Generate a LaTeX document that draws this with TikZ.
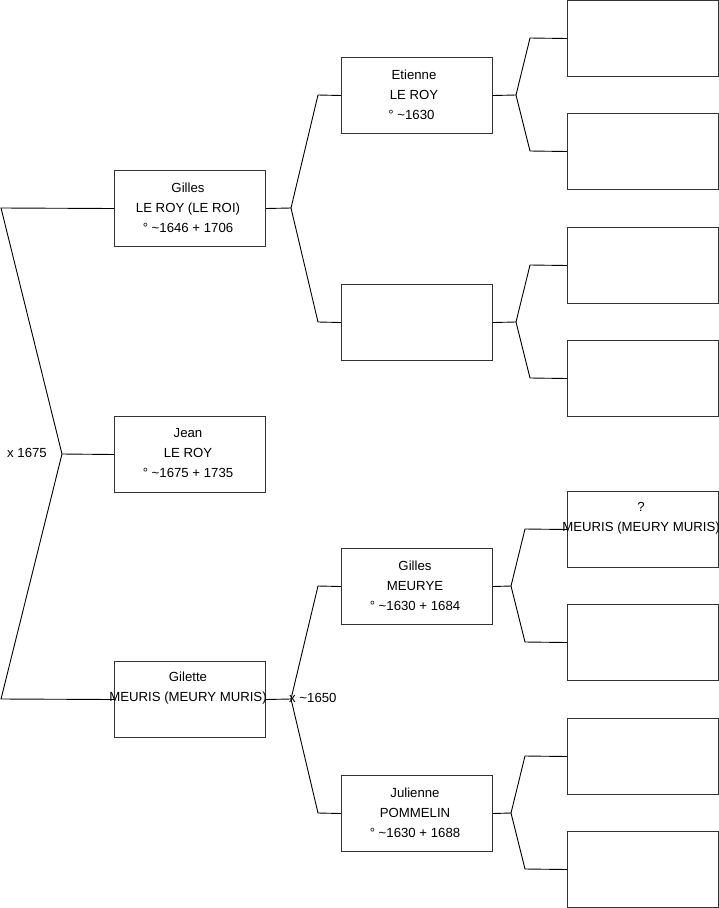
\documentclass[tikz,border=0pt]{standalone}
\usepackage{fontspec}
\setmainfont{Liberation Sans}
\newcommand{\tld}{\textasciitilde}
\begin{document}
\begin{tikzpicture}[x=1pt,y=-1pt,
  box/.style={draw=black!80, line width=1pt, minimum width=151pt, minimum height=76pt, inner sep=0pt, anchor=north west},
  lbl/.style={font=\fontsize{13.2}{20}\selectfont, align=center, inner sep=0pt},
  conn/.style={draw=black, line width=0.9pt}]
\useasboundingbox (0,0) rectangle (719,908);
% generation 1-2
\node[box] (g2a) at (114,170) {};
\node[box] (g1)  at (114,416) {};
\node[box] (g2b) at (114,661) {};
% generation 3
\node[box] (g3a) at (341,57) {};
\node[box] (g3b) at (341,284) {};
\node[box] (g3c) at (341,548) {};
\node[box] (g3d) at (341,775) {};
% generation 4
\node[box] (g4a) at (567,0) {};
\node[box] (g4b) at (567,113) {};
\node[box] (g4c) at (567,227) {};
\node[box] (g4d) at (567,340) {};
\node[box] (g4e) at (567,491) {};
\node[box] (g4f) at (567,604) {};
\node[box] (g4g) at (567,718) {};
\node[box] (g4h) at (567,831) {};
% texts
\node[lbl] (t2a) at ([xshift=-2pt,yshift=1pt]g2a.center) {Gilles\\LE ROY (LE ROI)\\° \tld1646 + 1706};
\node[lbl] (t1) at ([xshift=-2pt,yshift=1pt]g1.center) {Jean\\LE ROY\\° \tld1675 + 1735};
\node[lbl] (t2b) at ([xshift=-2pt,yshift=11pt]g2b.center) {Gilette\\MEURIS (MEURY MURIS)};
\node[lbl] (t3a) at ([xshift=-3pt,yshift=1pt]g3a.center) {Etienne\\LE ROY\\° \tld1630\hspace*{5pt}};
\node[lbl] (t3c) at ([xshift=-2pt,yshift=1pt]g3c.center) {Gilles\\MEURYE\\° \tld1630 + 1684};
\node[lbl] (t3d) at ([xshift=-2pt,yshift=1pt]g3d.center) {Julienne\\POMMELIN\\° \tld1630 + 1688};
\node[lbl] (t4e) at ([xshift=-2pt,yshift=11pt]g4e.center) {?\\MEURIS (MEURY MURIS)};
\node[lbl, anchor=east] (m1) at (47,453) {x 1675};
\node[lbl, anchor=west] (m2) at (289,698) {x \tld1650};
% fork coordinates
\coordinate (a0) at (1,208);
\coordinate (a1) at (62,454);
\coordinate (a2) at (1,699);
\coordinate (b1) at (291,208);
\coordinate (b1u) at (318,95);
\coordinate (b1d) at (318,322);
\coordinate (b2) at (291,699);
\coordinate (b2u) at (318,586);
\coordinate (b2d) at (318,813);
\coordinate (c1) at (516,95);
\coordinate (c1u) at (530,38);
\coordinate (c1d) at (530,151);
\coordinate (c2) at (516,322);
\coordinate (c2u) at (530,265);
\coordinate (c2d) at (530,378);
\coordinate (c3) at (511,586);
\coordinate (c3u) at (525,529);
\coordinate (c3d) at (525,642);
\coordinate (c4) at (511,813);
\coordinate (c4u) at (525,756);
\coordinate (c4d) at (525,869);
% connectors
\draw[conn] (g2a.west) -- (a0) -- (a1) -- (a2) -- (g2b.west);
\draw[conn] (a1) -- (g1.west);
\draw[conn] (g2a.east) -- (b1) -- (b1u) -- (g3a.west);
\draw[conn] (b1) -- (b1d) -- (g3b.west);
\draw[conn] (g2b.east) -- (b2) -- (b2u) -- (g3c.west);
\draw[conn] (b2) -- (b2d) -- (g3d.west);
\draw[conn] (g3a.east) -- (c1) -- (c1u) -- (g4a.west);
\draw[conn] (c1) -- (c1d) -- (g4b.west);
\draw[conn] (g3b.east) -- (c2) -- (c2u) -- (g4c.west);
\draw[conn] (c2) -- (c2d) -- (g4d.west);
\draw[conn] (g3c.east) -- (c3) -- (c3u) -- (g4e.west);
\draw[conn] (c3) -- (c3d) -- (g4f.west);
\draw[conn] (g3d.east) -- (c4) -- (c4u) -- (g4g.west);
\draw[conn] (c4) -- (c4d) -- (g4h.west);
\end{tikzpicture}
\end{document}
